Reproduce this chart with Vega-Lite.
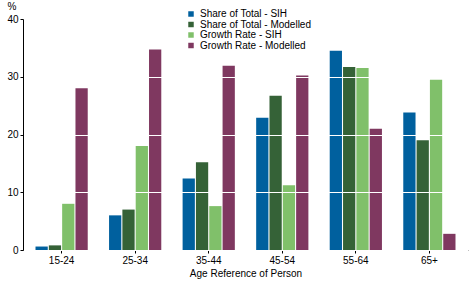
{
  "$schema": "https://vega.github.io/schema/vega-lite/v6.json",
  "autosize": "none",
  "width": 445,
  "height": 231,
  "padding": {"left": 23, "top": 19, "right": 4, "bottom": 33},
  "background": "white",
  "config": {
    "font": "Liberation Sans",
    "view": {"stroke": null},
    "axis": {"labelFont": "Liberation Sans", "titleFont": "Liberation Sans", "labelColor": "black", "titleColor": "black", "domainColor": "black", "tickColor": "black"}
  },
  "data": {
    "values": [
      {"age": "15-24", "series": "Share of Total - SIH", "value": 0.6},
      {"age": "15-24", "series": "Share of Total - Modelled", "value": 0.8},
      {"age": "15-24", "series": "Growth Rate - SIH", "value": 8.0},
      {"age": "15-24", "series": "Growth Rate - Modelled", "value": 28.0},
      {"age": "25-34", "series": "Share of Total - SIH", "value": 6.0},
      {"age": "25-34", "series": "Share of Total - Modelled", "value": 7.0},
      {"age": "25-34", "series": "Growth Rate - SIH", "value": 18.0},
      {"age": "25-34", "series": "Growth Rate - Modelled", "value": 34.7},
      {"age": "35-44", "series": "Share of Total - SIH", "value": 12.4},
      {"age": "35-44", "series": "Share of Total - Modelled", "value": 15.2},
      {"age": "35-44", "series": "Growth Rate - SIH", "value": 7.6},
      {"age": "35-44", "series": "Growth Rate - Modelled", "value": 31.9},
      {"age": "45-54", "series": "Share of Total - SIH", "value": 22.9},
      {"age": "45-54", "series": "Share of Total - Modelled", "value": 26.7},
      {"age": "45-54", "series": "Growth Rate - SIH", "value": 11.2},
      {"age": "45-54", "series": "Growth Rate - Modelled", "value": 30.2},
      {"age": "55-64", "series": "Share of Total - SIH", "value": 34.5},
      {"age": "55-64", "series": "Share of Total - Modelled", "value": 31.7},
      {"age": "55-64", "series": "Growth Rate - SIH", "value": 31.5},
      {"age": "55-64", "series": "Growth Rate - Modelled", "value": 21.0},
      {"age": "65+", "series": "Share of Total - SIH", "value": 23.8},
      {"age": "65+", "series": "Share of Total - Modelled", "value": 19.0},
      {"age": "65+", "series": "Growth Rate - SIH", "value": 29.5},
      {"age": "65+", "series": "Growth Rate - Modelled", "value": 2.8}
    ]
  },
  "mark": {"type": "bar"},
  "encoding": {
    "x": {
      "field": "age", "type": "nominal", "sort": null,
      "scale": {"paddingInner": 0.29, "paddingOuter": 0.17},
      "axis": {"title": "Age Reference of Person", "titleFontSize": 10, "titleFontWeight": "normal", "titlePadding": 3, "labelAngle": 0, "labelFontSize": 10, "tickSize": 3, "labelPadding": 2, "grid": false, "domainWidth": 1}
    },
    "xOffset": {
      "field": "series", "type": "nominal", "sort": ["Share of Total - SIH", "Share of Total - Modelled", "Growth Rate - SIH", "Growth Rate - Modelled"],
      "scale": {"paddingInner": 0.08, "paddingOuter": 0}
    },
    "y": {
      "field": "value", "type": "quantitative",
      "scale": {"domain": [0, 40], "nice": false},
      "axis": {"title": "%", "titleAngle": 0, "titleFontSize": 10, "titleFontWeight": "normal", "titleAlign": "left", "titleBaseline": "alphabetic", "titleX": -16, "titleY": -10, "values": [0, 10, 20, 30, 40], "labelFontSize": 10, "tickSize": 3, "labelPadding": 2, "grid": true, "gridColor": "white", "gridWidth": 1, "zindex": 1, "domainWidth": 1}
    },
    "color": {
      "field": "series", "type": "nominal",
      "sort": ["Share of Total - SIH", "Share of Total - Modelled", "Growth Rate - SIH", "Growth Rate - Modelled"],
      "scale": {"domain": ["Share of Total - SIH", "Share of Total - Modelled", "Growth Rate - SIH", "Growth Rate - Modelled"], "range": ["#00609e", "#356237", "#80c06a", "#7f3860"]},
      "legend": {"title": null, "orient": "none", "legendX": 163, "legendY": -10, "symbolType": "square", "symbolSize": 30, "symbolStrokeWidth": 0, "labelFontSize": 10, "rowPadding": 0.5, "labelOffset": 4, "padding": 0, "symbolOpacity": 1}
    }
  }
}
